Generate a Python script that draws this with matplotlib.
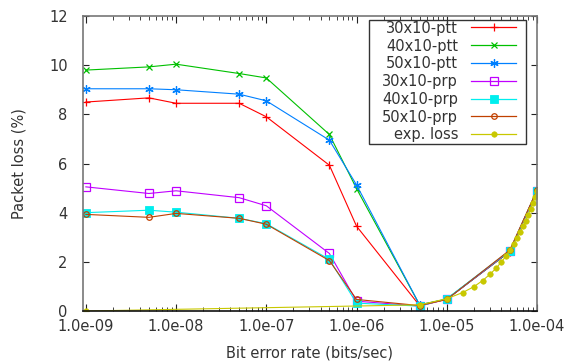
import matplotlib
matplotlib.use('Agg')
import matplotlib.pyplot as plt
import matplotlib.patches as patches
from matplotlib.lines import Line2D
from matplotlib.ticker import LogLocator, FixedLocator, NullFormatter

# Bit error rates measured
ber = [1e-9, 5e-9, 1e-8, 5e-8, 1e-7, 5e-7, 1e-6, 5e-6, 1e-5, 5e-5, 1e-4]

ptt_30 = [8.50, 8.67, 8.45, 8.45, 7.90, 5.93, 3.45, 0.22, 0.48, 2.42, 4.90]
ptt_40 = [9.80, 9.93, 10.04, 9.66, 9.48, 7.18, 4.98, 0.25, 0.48, 2.42, 4.90]
ptt_50 = [9.04, 9.04, 9.00, 8.82, 8.55, 6.95, 5.13, 0.25, 0.48, 2.44, 4.90]
prp_30 = [5.05, 4.78, 4.89, 4.61, 4.28, 2.34, 0.40, 0.20, 0.48, 2.44, 4.90]
prp_40 = [4.00, 4.10, 4.02, 3.77, 3.55, 2.10, 0.32, 0.20, 0.50, 2.46, 4.90]
prp_50 = [3.93, 3.81, 3.97, 3.77, 3.53, 2.05, 0.47, 0.22, 0.47, 2.48, 4.92]

ber_exp = [1e-9, 5e-6, 1e-5, 1.5e-5, 2e-5, 2.5e-5, 3e-5, 3.5e-5, 4e-5, 4.5e-5,
           5e-5, 5.5e-5, 6e-5, 6.5e-5, 7e-5, 7.5e-5, 8e-5, 8.5e-5, 9e-5, 9.5e-5, 1e-4]
exp_loss = [0.0, 0.25, 0.50, 0.75, 0.99, 1.24, 1.49, 1.73, 1.98, 2.22,
            2.47, 2.71, 2.96, 3.20, 3.44, 3.68, 3.92, 4.16, 4.40, 4.64, 4.88]

etiquetas = ['30x10-ptt', '40x10-ptt', '50x10-ptt', '30x10-prp', '40x10-prp', '50x10-prp', 'exp. loss']
colores = ['#ff0000', '#00c000', '#0080ff', '#c000ff', '#00eeee', '#c04000', '#c8c800']

W, H = 573, 363
fig = plt.figure(figsize=(W / 100, H / 100), dpi=100)
ax = fig.add_axes([83 / W, 1 - 311 / H, (537 - 83) / W, (311 - 16) / H])

estilos = [
	dict(marker='+', ms=6, mew=0.9, mfc='none'),
	dict(marker='x', ms=5, mew=0.9, mfc='none'),
	dict(marker=(6, 2, 0), ms=6, mew=0.9, mfc='none'),
	dict(marker='s', ms=5.5, mew=0.9, mfc='none'),
	dict(marker='s', ms=5.5, mew=0.6),
	dict(marker='o', ms=4, mew=0.9, mfc='none'),
	dict(marker='o', ms=4, mew=0.4),
]

series = [ptt_30, ptt_40, ptt_50, prp_30, prp_40, prp_50]
for i, valores in enumerate(series):
	ax.plot(ber, valores, color=colores[i], lw=0.8, **estilos[i])
ax.plot(ber_exp, exp_loss, color=colores[6], lw=0.8, **estilos[6])

ax.set_xscale('log')
ax.set_xlim(0.93e-9, 1e-4)
ax.set_ylim(0, 12)
ax.set_yticks([0, 2, 4, 6, 8, 10, 12])
ax.xaxis.set_major_locator(FixedLocator([1e-9, 1e-8, 1e-7, 1e-6, 1e-5, 1e-4]))
ax.set_xticklabels(['1.0e-09', '1.0e-08', '1.0e-07', '1.0e-06', '1.0e-05', '1.0e-04'])
ax.xaxis.set_minor_locator(LogLocator(base=10, subs=range(2, 10)))
ax.xaxis.set_minor_formatter(NullFormatter())

ax.tick_params(axis='both', which='both', direction='in', top=True, right=True,
               labelsize=10.5, labelcolor='#333333', color='#222222')
ax.tick_params(axis='x', which='major', length=5, width=0.8, pad=6)
ax.tick_params(axis='x', which='minor', length=3, width=0.6)
ax.tick_params(axis='y', which='major', length=4, width=0.8, pad=11)

for lado in ['left', 'top', 'right']:
	ax.spines[lado].set_color('#777777')
	ax.spines[lado].set_linewidth(1.2)
ax.spines['bottom'].set_color('#111111')
ax.spines['bottom'].set_linewidth(1.2)

ax.set_xlabel('Bit error rate (bits/sec)', fontsize=10.5, color='#333333', labelpad=8)
ax.set_ylabel('Packet loss (%)', fontsize=10.5, color='#333333', labelpad=16)

# Leyenda al estilo gnuplot: texto a la derecha alineado, muestra de linea despues
caja = patches.Rectangle((369 / W, 1 - 143.5 / H), (526 - 369) / W, (143.5 - 19.5) / H,
                         transform=fig.transFigure, fill=False, edgecolor='#333333', lw=1.0)
fig.patches.append(caja)
for i, etiqueta in enumerate(etiquetas):
	base = 1 - (32.7 + i * 17.8) / H
	yc = 1 - (27.4 + i * 17.8) / H
	fig.text(458 / W, base, etiqueta, ha='right', va='baseline', fontsize=10.5, color='#333333')
	muestra = Line2D([471 / W, 516 / W], [yc, yc], transform=fig.transFigure,
	                 color=colores[i], lw=0.9)
	fig.lines.append(muestra)
	marca = Line2D([493.5 / W], [yc], transform=fig.transFigure, color=colores[i],
	               linestyle='none', **estilos[i])
	fig.lines.append(marca)

fig.savefig('out.png', dpi=100)
